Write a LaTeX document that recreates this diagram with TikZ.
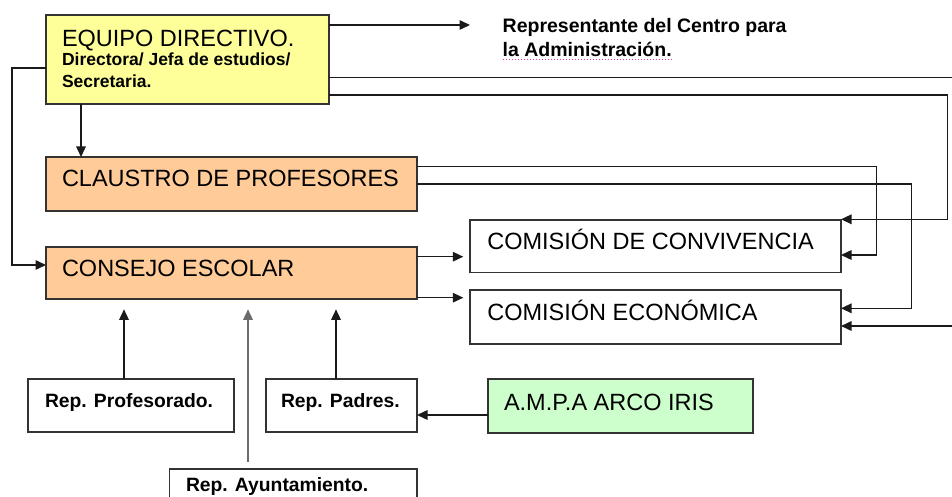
\documentclass[tikz,border=0pt]{standalone}
\usepackage{fontspec}
\setmainfont{Liberation Sans}
\usetikzlibrary{arrows.meta}
\definecolor{yel}{HTML}{FFFF99}
\definecolor{ora}{HTML}{FFCC99}
\definecolor{grn}{HTML}{CCFFCC}
\definecolor{edge}{HTML}{333333}
\definecolor{ln}{HTML}{1A1A1A}
\newcommand{\bigtxt}{\fontsize{23.5}{26}\selectfont}
\newcommand{\subtxt}{\fontsize{17.5}{20}\selectfont\bfseries}
\newcommand{\reptxt}{\fontsize{19.3}{22}\selectfont\bfseries}
\newcommand{\admtxt}{\fontsize{19.5}{22}\selectfont\bfseries}
\begin{document}
\begin{tikzpicture}[x=1pt,y=-1pt,
  box/.style={draw=edge, line width=1.5pt, anchor=north west, inner sep=0pt, outer sep=0pt},
  txt/.style={anchor=base west, inner sep=0pt, outer sep=0pt, text=black},
  con/.style={draw=ln, line width=1.5pt},
  arr/.style={con, -{Triangle[length=10.5pt,width=9.5pt]}}]
\useasboundingbox (0,0) rectangle (952,497);
\fill[white] (0,0) rectangle (952,497);
\clip (0,0) rectangle (952,497);

% boxes
\node[box, fill=yel, minimum width=283pt, minimum height=89pt] (eq) at (46,15) {};
\node[box, fill=ora, minimum width=371pt, minimum height=54pt] (cl) at (46,157) {};
\node[box, fill=ora, minimum width=371pt, minimum height=52pt] (ce) at (46,247) {};
\node[box, fill=white, minimum width=371pt, minimum height=52.5pt] (cv) at (470,220) {};
\node[box, fill=white, minimum width=371pt, minimum height=54pt] (ec) at (470,290) {};
\node[box, fill=white, minimum width=206pt, minimum height=53pt] (rp) at (28,379) {};
\node[box, fill=white, minimum width=151pt, minimum height=53pt] (rpa) at (266,379) {};
\node[box, fill=white, minimum width=247.5pt, minimum height=60pt] (ra) at (169.5,469) {};
\node[box, fill=grn, minimum width=265pt, minimum height=54pt] (am) at (488,379) {};

% texts
\node[txt] (eqt) at (62,46.7) {\bigtxt EQUIPO DIRECTIVO.};
\node[txt] (eqs1) at (62,65.7) {\subtxt Directora/ Jefa de estudios/};
\node[txt] (eqs2) at (62,87.3) {\subtxt Secretaria.};
\node[txt] (adm1) at (502.7,32.7) {\admtxt Representante del Centro para};
\node[txt] (adm2) at (502.7,56.7) {\admtxt la Administración.};
\node[txt] (clt) at (62,186.7) {\bigtxt CLAUSTRO DE PROFESORES};
\node[txt] (cet) at (62,276.7) {\bigtxt CONSEJO ESCOLAR};
\node[txt] (cvt) at (487.3,249) {\bigtxt COMISIÓN DE CONVIVENCIA};
\node[txt] (ect) at (487.3,320) {\bigtxt COMISIÓN ECONÓMICA};
\node[txt] (amt) at (504,410) {\bigtxt A.M.P.A ARCO IRIS};
\node[txt] (rpt) at (45,407.3) {\reptxt Rep. Profesorado.};
\node[txt] (rpat) at (281,407.3) {\reptxt Rep. Padres.};
\node[txt] (rat) at (186,491.7) {\reptxt Rep. Ayuntamiento.};
\draw[magenta!80!white, dotted, line width=1pt] (503,59.5) -- (672,59.5);

% coordinates
\coordinate (admA) at (470,25);
\coordinate (rt1) at (947.3,95);
\coordinate (cvA) at (0,219.3);
\coordinate (off1) at (960,77.3);
\coordinate (off2) at (960,326);
\coordinate (cl1) at (876.7,166.7);
\coordinate (cvB) at (0,255);
\coordinate (cl2) at (911.7,184);
\coordinate (ecA) at (0,308.3);
\coordinate (xdown) at (81,0);
\coordinate (lft) at (12,68);
\coordinate (ceIn) at (0,265);
\coordinate (cvE) at (463.3,256.7);
\coordinate (ecE) at (463.3,297.7);
\coordinate (upP) at (124,309.3);
\coordinate (upPa) at (336,309.3);
\coordinate (upA) at (248,309.3);
\coordinate (raTop) at (248,461.7);
\coordinate (amY) at (0,415);

% connectors
\draw[arr] (eq.east|-admA) -- (admA);
\draw[arr] (eq.east|-rt1) -- (rt1) |- (cv.east|-cvA);
\draw[con] (eq.east|-off1) -- (off1);
\draw[arr] (off2) -- (ec.east|-off2);
\draw[arr] (cl.east|-cl1) -- (cl1) |- (cv.east|-cvB);
\draw[arr] (cl.east|-cl2) -- (cl2) |- (ec.east|-ecA);
\draw[arr] (eq.south-|xdown) -- (cl.north-|xdown);
\draw[arr] (eq.west|-lft) -- (lft) |- (ce.west|-ceIn);
\draw[arr] (ce.east|-cvE) -- (cvE);
\draw[arr] (ce.east|-ecE) -- (ecE);
\draw[arr] (rp.north-|upP) -- (upP);
\draw[arr] (rpa.north-|upPa) -- (upPa);
\draw[arr, draw=gray!85!black] (raTop) -- (upA);
\draw[arr] (am.west|-amY) -- (rpa.east|-amY);
\end{tikzpicture}
\end{document}
